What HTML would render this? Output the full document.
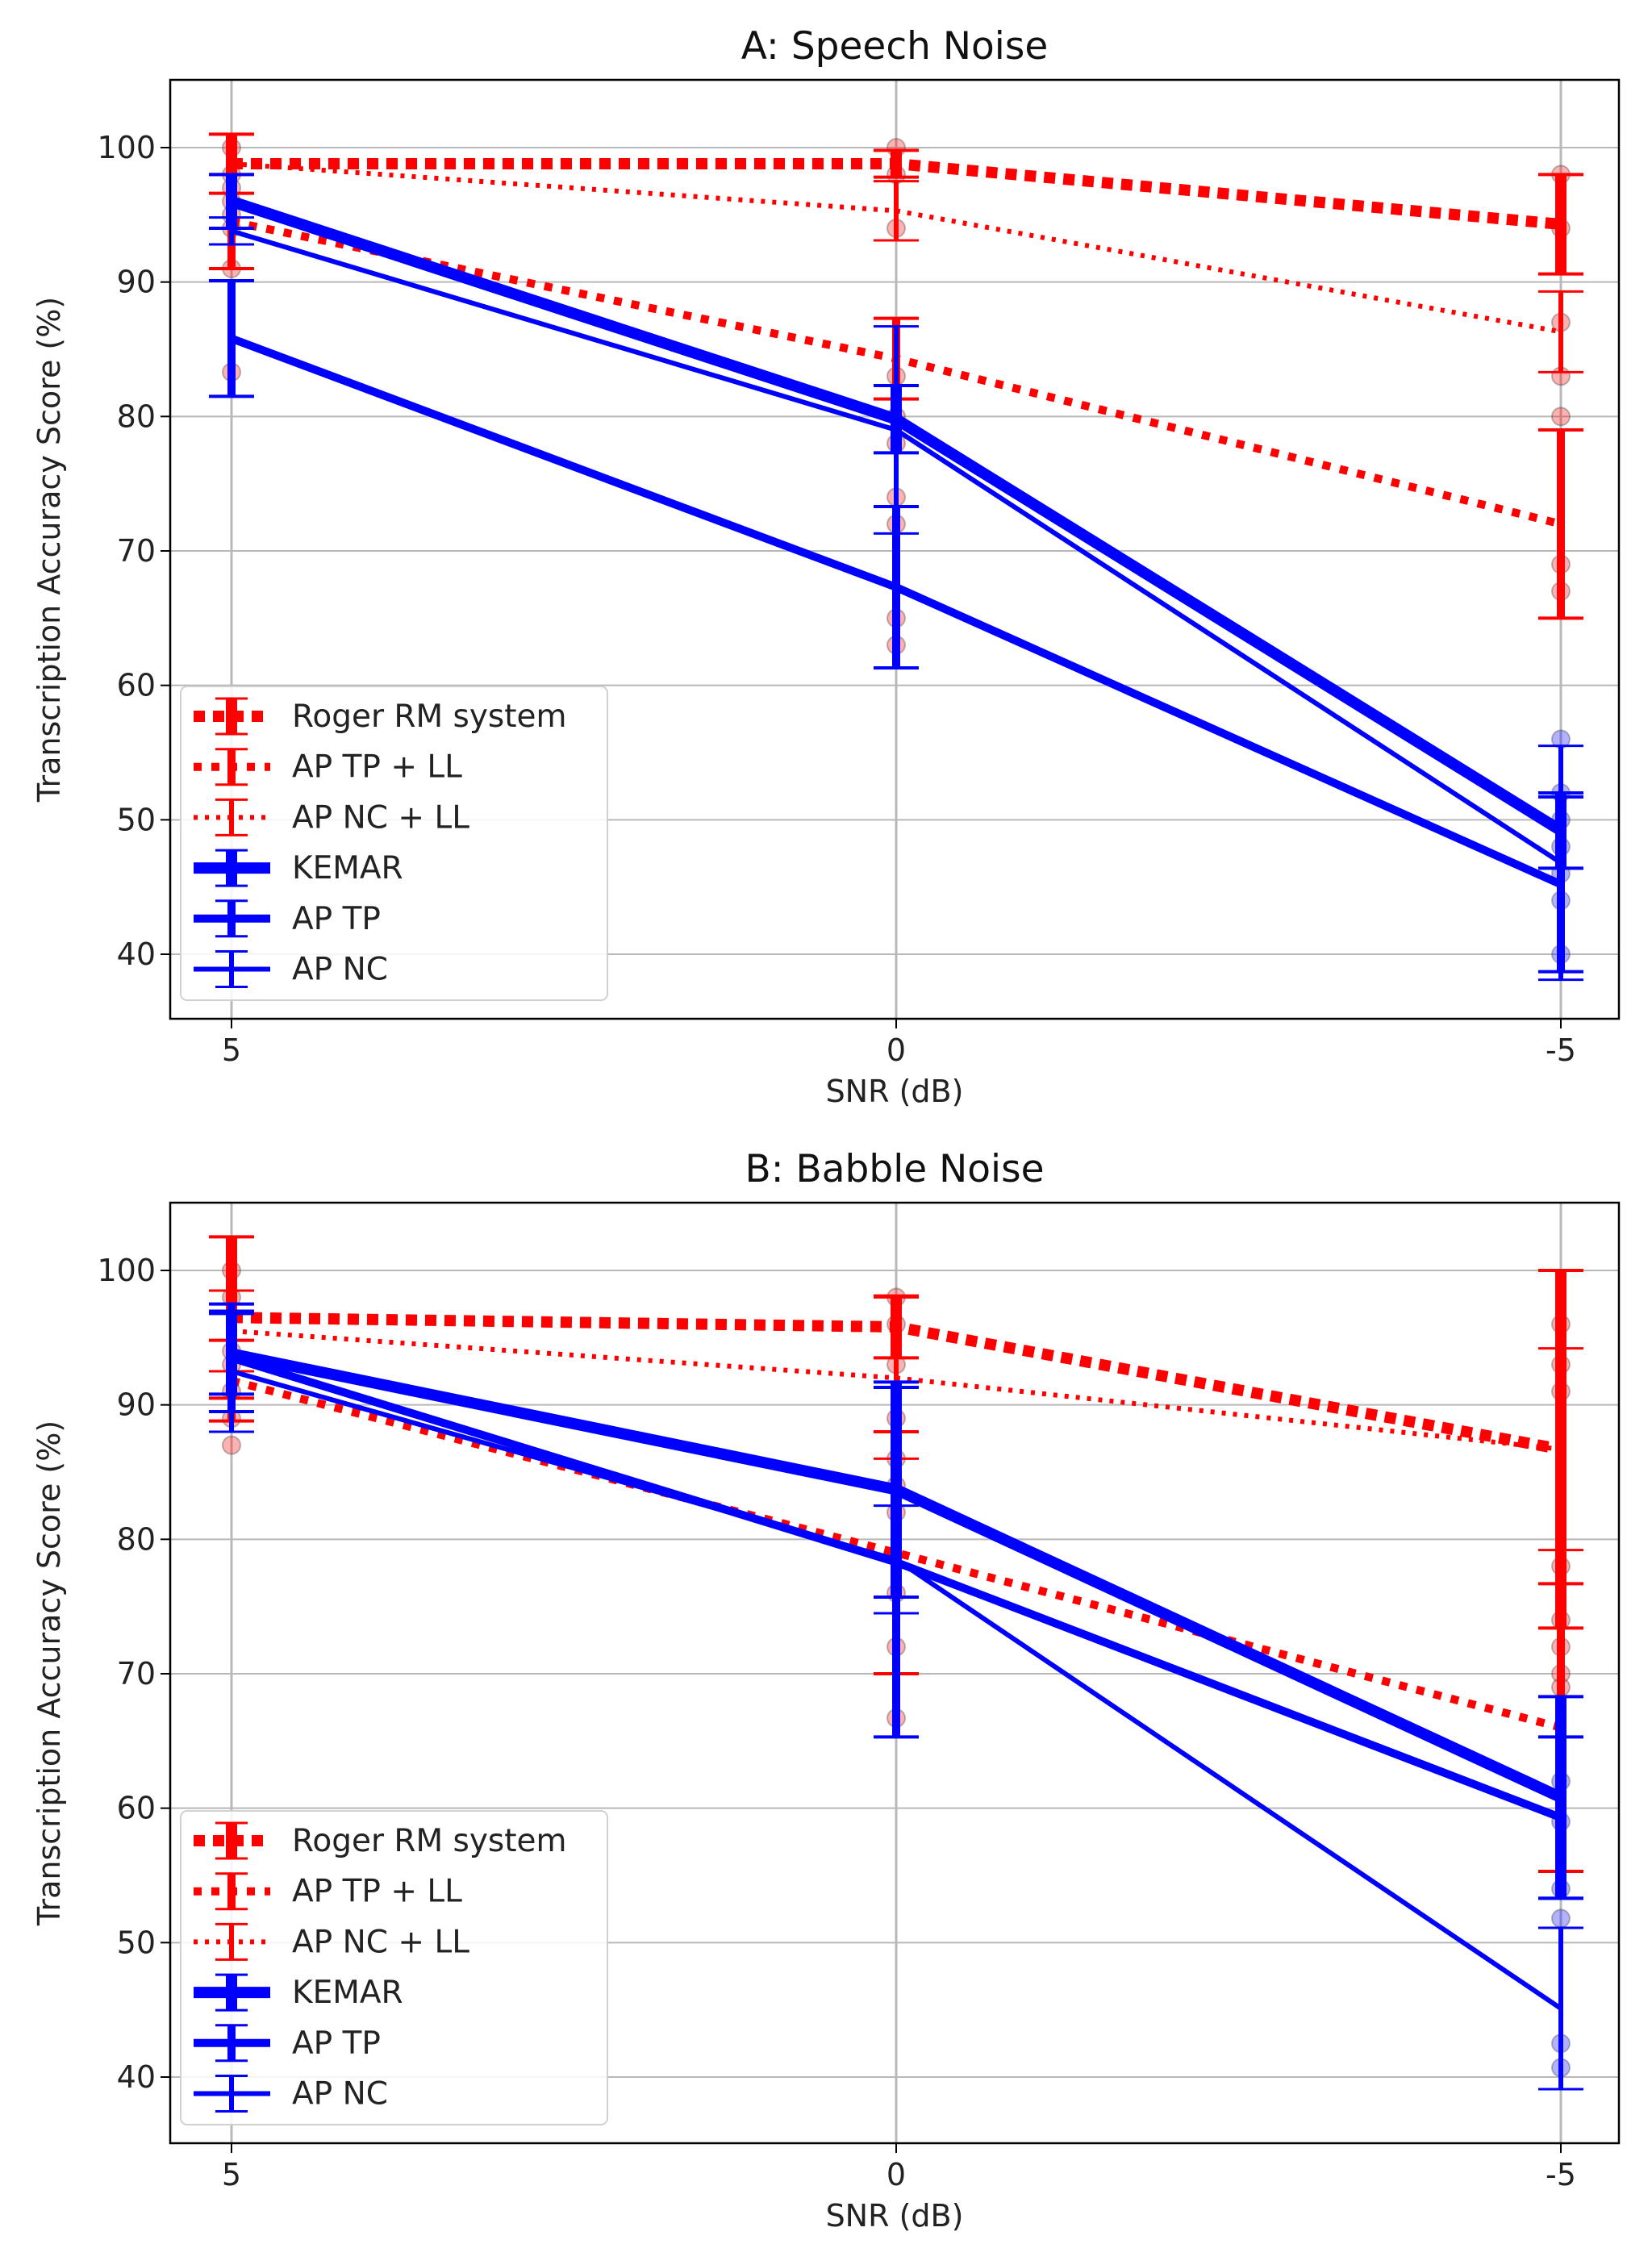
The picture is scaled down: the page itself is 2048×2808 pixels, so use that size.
<!DOCTYPE html>
<html><head><meta charset="utf-8"><style>
html,body{margin:0;padding:0;background:#fff;}
svg{display:block;font-family:"DejaVu Sans","Liberation Sans",sans-serif;}
</style></head>
<body>
<svg id="chart" width="2048" height="2808" viewBox="0 0 2048 2808" xmlns="http://www.w3.org/2000/svg"></svg>
<script>
const snrCategories = ["5","0","-5"];
const yTicks = [40,50,60,70,80,90,100];
const seriesNames = ["Roger RM system","AP TP + LL","AP NC + LL","KEMAR","AP TP","AP NC"];
// Panel A: Speech noise
const aMeans = {
  roger:[98.8,98.8,94.3], tpll:[94.5,84.3,72.0], ncll:[98.8,95.3,86.3],
  kemar:[96.0,79.8,49.2], tp:[85.8,67.3,45.2], nc:[93.8,79.0,46.8]
};
const aErrs = {
  roger:[2.2,1.0,3.7], tpll:[3.5,3.0,7.0], ncll:[2.2,2.2,3.0],
  kemar:[2.0,2.5,2.8], tp:[4.3,6.0,6.5], nc:[1.0,7.7,8.7]
};
const aPoints = [[0,100],[0,98],[0,94],[0,91],[0,96],[0,83.3],[0,95],[0,97],
  [1,100],[1,94],[1,98],[1,83],[1,78],[1,74],[1,72],[1,65],[1,63],[1,80],
  [2,98],[2,94],[2,87],[2,83],[2,80],[2,69],[2,67],[2,56],[2,50],[2,48],[2,46],[2,44],[2,40],[2,52]];
// Panel B: Babble noise
const bMeans = {
  roger:[96.5,95.8,86.7], tpll:[91.8,79.0,66.0], ncll:[95.5,92.0,86.7],
  kemar:[93.8,83.7,60.8], tp:[93.5,78.3,59.3], nc:[92.5,78.5,45.1]
};
const bErrs = {
  roger:[6.0,2.3,13.3], tpll:[3.0,9.0,10.7], ncll:[3.0,6.0,7.5],
  kemar:[3.0,8.0,7.5], tp:[4.0,13.0,6.0], nc:[4.5,4.0,6.0]
};
const bPoints = [[0,100],[0,98],[0,94],[0,91],[0,87],[0,89],[0,93],
  [1,98],[1,96],[1,93],[1,89],[1,86],[1,82],[1,76],[1,72],[1,66.7],[1,84],
  [2,96],[2,93],[2,91],[2,78],[2,74],[2,72],[2,70],[2,69],[2,62],[2,59],[2,54],[2,51.8],[2,42.5],[2,40.7]];

const styles = {
  roger:{c:"#ff0000",w:14,d:"14 10",cap:14},
  tpll:{c:"#ff0000",w:10,d:"10 12",cap:10},
  ncll:{c:"#ff0000",w:6,d:"5 9",cap:6},
  kemar:{c:"#0000ff",w:14,d:"",cap:14},
  tp:{c:"#0000ff",w:10,d:"",cap:10},
  nc:{c:"#0000ff",w:6,d:"",cap:6}
};
const keys = ["roger","tpll","ncll","kemar","tp","nc"];
const NS="http://www.w3.org/2000/svg";
const svg=document.getElementById("chart");
function el(tag,attrs,parent){const e=document.createElementNS(NS,tag);for(const k in attrs)e.setAttribute(k,attrs[k]);(parent||svg).appendChild(e);return e;}

function panel(opt){
  const g=el("g",{});
  
  
  const L=211,R=2007,T=opt.top,B=opt.bottom;
  const xs=[287,1111,1935];
  const xScale=i=>xs[i];
  const yScale=v=>opt.y100+(100-v)*(opt.y40-opt.y100)/60;
  yTicks.forEach(t=>{
    const l=el("line",{x1:L,x2:R,y1:yScale(t),y2:yScale(t),stroke:"#b8b8b8","stroke-width":2},g);
    
    
    el("line",{x1:L-12,x2:L,y1:yScale(t),y2:yScale(t),stroke:"#000","stroke-width":2},g);
    const tx=el("text",{x:L-18,y:yScale(t)+13,"text-anchor":"end","font-size":38,fill:"#222"},g);
    tx.textContent=t;
    
    
  });
  snrCategories.forEach((c,i)=>{
    const l=el("line",{x1:xScale(i),x2:xScale(i),y1:T,y2:B,stroke:"#b8b8b8","stroke-width":3},g);
    
    
    el("line",{x1:xScale(i),x2:xScale(i),y1:B,y2:B+12,stroke:"#000","stroke-width":2},g);
    const tx=el("text",{x:xScale(i),y:B+52,"text-anchor":"middle","font-size":38,fill:"#222"},g);
    tx.textContent=c;
    
    
  });
  opt.points.forEach(p=>{
    const pc=el("circle",{cx:xScale(p[0]),cy:yScale(p[1]),r:11,fill:p[1]>=opt.split?"rgba(255,0,0,0.3)":"rgba(0,0,255,0.3)",stroke:"rgba(60,60,60,0.35)","stroke-width":2},g);
    
    
  });
  keys.forEach(k=>{
    const s=styles[k],m=opt.means[k],e=opt.errs[k];
    const sg=el("g",{},g);
    
    
    m.forEach((v,i)=>{
      const x=xScale(i);
      el("line",{x1:x,x2:x,y1:yScale(v+e[i]),y2:yScale(v-e[i]),stroke:s.c,"stroke-width":s.w},sg);
      [v+e[i],v-e[i]].forEach(cv=>el("line",{x1:x-28,x2:x+28,y1:yScale(cv),y2:yScale(cv),stroke:s.c,"stroke-width":s.cap>8?4:3},sg));
    });
    const pts=m.map((v,i)=>xScale(i)+","+yScale(v)).join(" ");
    const pl=el("polyline",{points:pts,fill:"none",stroke:s.c,"stroke-width":s.w,"stroke-dasharray":s.d},sg);
    
    
  });
  const fr=el("rect",{x:L,y:T,width:R-L,height:B-T,fill:"none",stroke:"#000","stroke-width":2.5},g);
  
  
  const ti=el("text",{x:(L+R)/2,y:T-26,"text-anchor":"middle","font-size":47,fill:"#111"},g);
  ti.textContent=opt.title;
  
  
  const xl=el("text",{x:(L+R)/2,y:B+103,"text-anchor":"middle","font-size":38,fill:"#222"},g);
  xl.textContent="SNR (dB)";
  
  
  const cy=(T+B)/2;
  const yl=el("text",{x:0,y:0,"text-anchor":"middle","font-size":38,fill:"#222",transform:`translate(74,${cy}) rotate(-90)`},g);
  yl.textContent="Transcription Accuracy Score (%)";
  
  
  const lg=el("g",{},g);
  
  
  const lx=224,ly=opt.legendTop;
  el("rect",{x:lx,y:ly,width:529,height:389,rx:8,fill:"rgba(255,255,255,0.85)",stroke:"#d0d0d0","stroke-width":2},lg);
  keys.forEach((k,i)=>{
    const s=styles[k],y=ly+37+i*62.7;
    const eg=el("g",{},lg);
    
    
    el("line",{x1:240,x2:335,y1:y,y2:y,stroke:s.c,"stroke-width":s.w,"stroke-dasharray":s.d},eg);
    el("line",{x1:287,x2:287,y1:y-22,y2:y+22,stroke:s.c,"stroke-width":s.w},eg);
    el("line",{x1:267,x2:307,y1:y-22,y2:y-22,stroke:s.c,"stroke-width":3},eg);
    el("line",{x1:267,x2:307,y1:y+22,y2:y+22,stroke:s.c,"stroke-width":3},eg);
    const t=el("text",{x:362,y:y+13,"font-size":39,fill:"#222"},eg);
    t.textContent=seriesNames[i];
  });
}
panel({name:"panel-a-speech-noise",title:"A: Speech Noise",top:99,bottom:1263,y100:183,y40:1183,means:aMeans,errs:aErrs,points:aPoints,legendTop:851,split:57});
panel({name:"panel-b-babble-noise",title:"B: Babble Noise",top:1491,bottom:2657,y100:1575,y40:2575,means:bMeans,errs:bErrs,points:bPoints,legendTop:2245,split:64});
</script>
</body></html>
